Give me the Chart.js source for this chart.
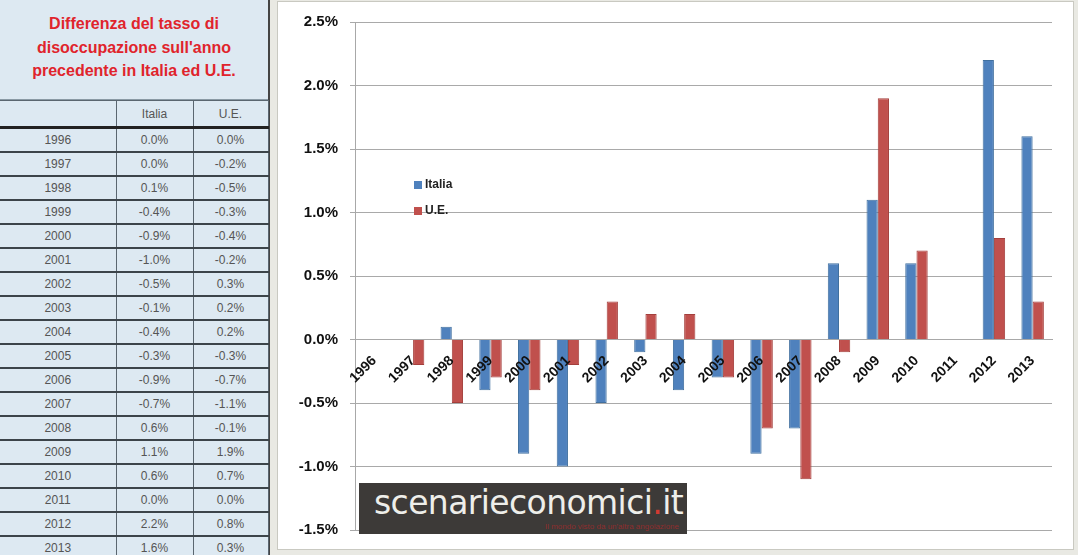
<!DOCTYPE html>
<html>
<head>
<meta charset="utf-8">
<script src="https://cdn.jsdelivr.net/npm/chart.js@4.4.1/dist/chart.umd.min.js"></script>
<style>
    html, body { margin: 0; padding: 0; }
    body {
        width: 1078px; height: 555px; overflow: hidden; position: relative;
        background: #e9e9e3; font-family: "Liberation Sans", Arial, sans-serif;
    }
    #side {
        position: absolute; left: 0; top: 0; width: 268px; height: 560px;
        background: #dde9f2; border-right: 2px solid #444;
    }
    #side h1 {
        margin: 0; height: 100px; box-sizing: border-box; padding-top: 12px;
        font-size: 16px; line-height: 23.5px; font-weight: bold; color: #e0242c;
        text-align: center; border-bottom: 1px solid #8a9aa5;
    }
    #tbl { border-collapse: collapse; width: 268px; table-layout: fixed; }
    #tbl td {
        height: 22px; padding: 0; text-align: center; font-size: 12px; color: #555;
        border: 1px solid #5a6670; border-bottom-width: 2px; border-bottom-color: #3c444a;
    }
    #tbl tr.head td { height: 25px; border-bottom: 3px solid #222; }
    #tbl td:first-child { border-left: none; }
    #panel {
        position: absolute; left: 277px; top: 1px; width: 795px; height: 547px;
        background: #fff; border: 1px solid #c9c9c1;
    }
    #chartBox { position: absolute; left: 277px; top: 0; width: 801px; height: 555px; }
    #legend { position: absolute; left: 414px; top: 177px; font-size: 12px; font-weight: bold; color: #222; }
    #legend div { height: 26px; display: flex; align-items: flex-start; }
    #legend span.box { width: 8px; height: 8px; margin: 4px 3px 0 0; display: inline-block; }
    #mark {
        position: absolute; left: 359px; top: 483px; width: 328px; height: 51px;
        background: #3d3a38;
    }
    #mark .name {
        position: absolute; left: 15px; top: 0px; font-family: "DejaVu Sans", sans-serif;
        font-size: 33px; color: #eeeeea; letter-spacing: -0.6px;
    }
    #mark .name b { color: #d23a32; font-weight: normal; }
    #mark .tag {
        position: absolute; right: 8px; bottom: 3px; font-size: 8px; color: #8e2e2e;
    }
</style>
</head>
<body>
<div id="side">
    <h1>Differenza del tasso di<br>disoccupazione sull'anno<br>precedente in Italia ed U.E.</h1>
    <table id="tbl"></table>
</div>
<div id="panel"></div>
<div id="chartBox"><canvas id="chart"></canvas></div>
<div id="legend"></div>
<div id="mark">
    <div class="name">scenarieconomici<b>.</b>it</div>
    <div class="tag">Il mondo visto da un'altra angolazione</div>
</div>
<script>
const years = ['1996', '1997', '1998', '1999', '2000', '2001', '2002', '2003', '2004',
    '2005', '2006', '2007', '2008', '2009', '2010', '2011', '2012', '2013'];
const italia = [0.0, 0.0, 0.1, -0.4, -0.9, -1.0, -0.5, -0.1, -0.4,
    -0.3, -0.9, -0.7, 0.6, 1.1, 0.6, 0.0, 2.2, 1.6];
const ue = [0.0, -0.2, -0.5, -0.3, -0.4, -0.2, 0.3, 0.2, 0.2,
    -0.3, -0.7, -1.1, -0.1, 1.9, 0.7, 0.0, 0.8, 0.3];
const seriesNames = ['Italia', 'U.E.'];
const seriesColors = ['#4f81bd', '#c0504d'];
const seriesBorders = ['#41709f', '#a43f3c'];

const fmt = v => v.toFixed(1) + '%';

// Side table
const tbl = document.getElementById('tbl');
let rows = '<colgroup><col style="width:116px"><col style="width:77px"><col style="width:75px"></colgroup>';
rows += `<tr class="head"><td></td><td>${seriesNames[0]}</td><td>${seriesNames[1]}</td></tr>`;
years.forEach((y, i) => {
    rows += `<tr><td>${y}</td><td>${fmt(italia[i])}</td><td>${fmt(ue[i])}</td></tr>`;
});
tbl.innerHTML = rows;

// Legend inside the plot
document.getElementById('legend').innerHTML = seriesNames.map((n, i) =>
    `<div><span class="box" style="background:${seriesColors[i]}"></span>${n}</div>`).join('');

const ctx = document.getElementById('chart').getContext('2d');
new Chart(ctx, {
    type: 'bar',
    data: {
        labels: years,
        datasets: [
            {
                label: seriesNames[0],
                data: italia,
                backgroundColor: seriesColors[0],
                borderColor: seriesBorders[0],
                borderWidth: 1
            },
            {
                label: seriesNames[1],
                data: ue,
                backgroundColor: seriesColors[1],
                borderColor: seriesBorders[1],
                borderWidth: 1
            }
        ]
    },
    options: {
        responsive: true,
        maintainAspectRatio: false,
        animation: false,
        categoryPercentage: 0.58,
        barPercentage: 1,
        layout: { padding: { top: 22, bottom: 25, right: 26, left: 0 } },
        plugins: {
            legend: { display: false },
            tooltip: { enabled: false }
        },
        scales: {
            x: {
                position: { y: 0 },
                grid: { display: false },
                border: { display: true, color: '#a8a8a8', width: 1 },
                ticks: {
                    z: 1, // labels sit on top of the bars, like the original
                    minRotation: 45,
                    maxRotation: 45,
                    padding: 5,
                    color: '#111',
                    font: { family: 'Liberation Sans', size: 14, weight: 'bold' }
                }
            },
            y: {
                min: -1.5,
                max: 2.5,
                afterFit: s => { s.width = 78; },
                grid: { color: '#a9a9a9', lineWidth: 1, tickLength: 5 },
                border: { display: true, color: '#a8a8a8' },
                ticks: {
                    stepSize: 0.5,
                    padding: 12,
                    color: '#111',
                    font: { family: 'Liberation Sans', size: 15, weight: 'bold' },
                    callback: v => fmt(v)
                }
            }
        }
    }
});
</script>
</body>
</html>
